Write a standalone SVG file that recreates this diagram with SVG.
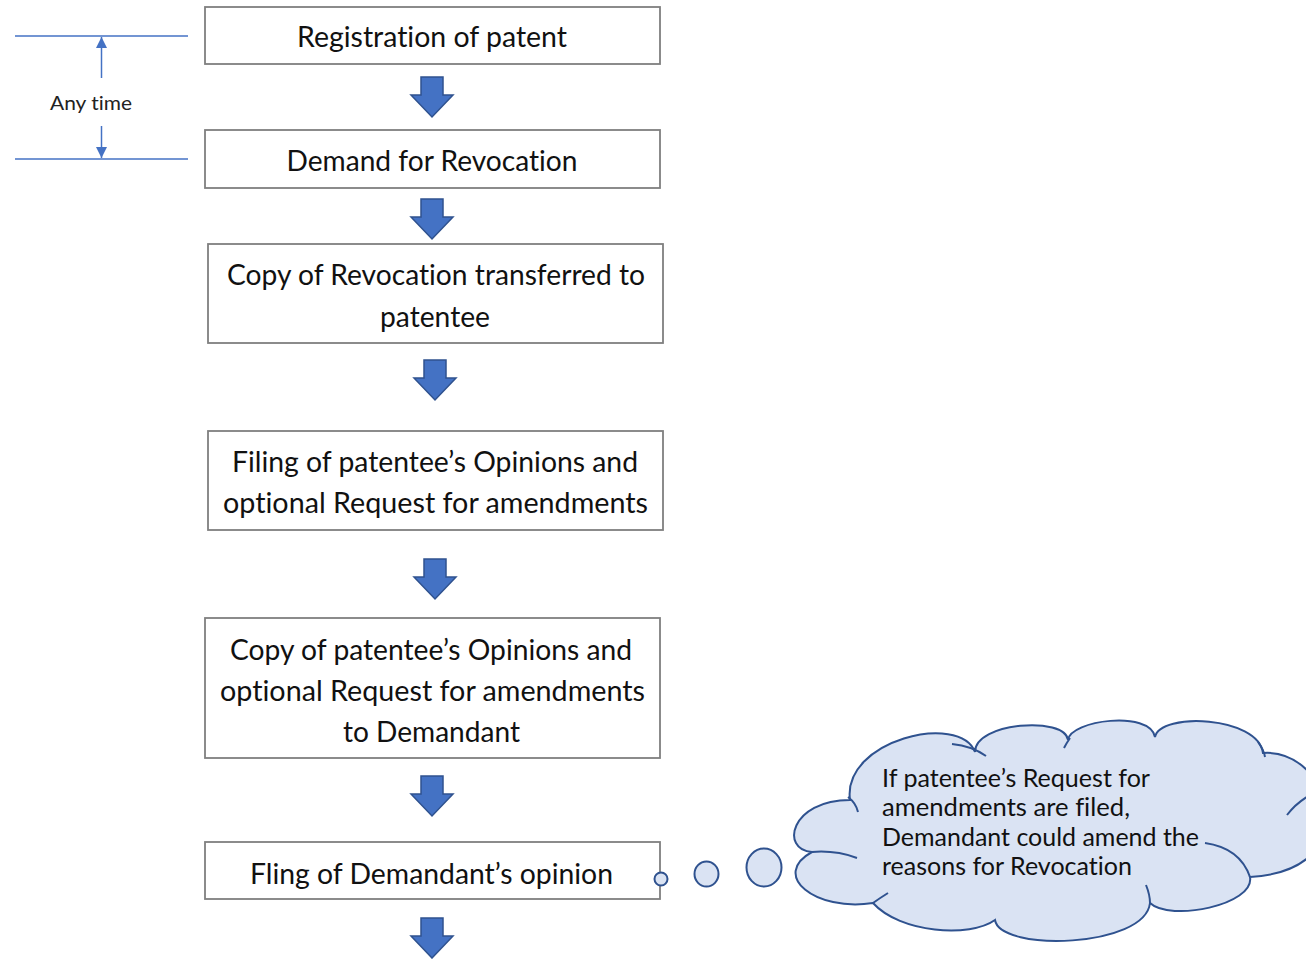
<svg xmlns="http://www.w3.org/2000/svg" width="1306" height="959" viewBox="0 0 1306 959">
  <style>
    text { font-variant-ligatures: none; font-feature-settings: "liga" 0, "clig" 0; }
    .box { fill: #ffffff; stroke: #7f7f7f; stroke-width: 1.8; }
    .lbl { font-family: Lato, "Open Sans", "Liberation Sans", sans-serif; font-size: 28px; fill: #111111; text-anchor: middle; }
    .note { font-family: Lato, "Open Sans", "Liberation Sans", sans-serif; font-size: 25px; fill: #111111; }
    .dim { stroke: #4472c4; stroke-width: 1.5; fill: none; }
    .dimtxt { font-family: Lato, "Open Sans", "Liberation Sans", sans-serif; font-size: 19px; fill: #222222; text-anchor: middle; }
    .flow { fill: #4472c4; stroke: #2f528f; stroke-width: 1.5; stroke-linejoin: miter; }
    .cloud { fill: #dae3f3; stroke: #2f528f; stroke-width: 2; }
    .stub { fill: none; stroke: #2f528f; stroke-width: 2; }
  </style>
  <defs>
    <!-- block arrow pointing down, origin at top centre of the shaft -->
    <path id="down" d="M-11,0 H11 V18 H21 L0,40 L-21,18 H-11 Z"/>
    <marker id="tip" viewBox="0 0 10 10" refX="10" refY="5" markerWidth="11" markerHeight="11" markerUnits="userSpaceOnUse" orient="auto">
      <path d="M0,0 L10,5 L0,10 Z" fill="#4472c4"/>
    </marker>
  </defs>

  <!-- time span between registration and demand -->
  <g id="any-time">
    <line class="dim" x1="15" y1="36" x2="188" y2="36"/>
    <line class="dim" x1="15" y1="159" x2="188" y2="159"/>
    <line class="dim" x1="101.5" y1="78" x2="101.5" y2="37" marker-end="url(#tip)"/>
    <line class="dim" x1="101.5" y1="126" x2="101.5" y2="158" marker-end="url(#tip)"/>
    <text class="dimtxt" x="91" y="110" textLength="82" lengthAdjust="spacingAndGlyphs">Any time</text>
  </g>

  <g id="n1">
    <rect class="box" x="205" y="7" width="455" height="57"/>
    <text class="lbl" x="432" y="47" textLength="270" lengthAdjust="spacingAndGlyphs">Registration of patent</text>
  </g>
  <g id="n2">
    <rect class="box" x="205" y="130" width="455" height="58"/>
    <text class="lbl" x="432" y="171" textLength="291" lengthAdjust="spacingAndGlyphs">Demand for Revocation</text>
  </g>
  <g id="n3">
    <rect class="box" x="208" y="244" width="455" height="99"/>
    <text class="lbl" x="436" y="285" textLength="418" lengthAdjust="spacingAndGlyphs">Copy of Revocation transferred to</text>
    <text class="lbl" x="435" y="327" textLength="110" lengthAdjust="spacingAndGlyphs">patentee</text>
  </g>
  <g id="n4">
    <rect class="box" x="208" y="431" width="455" height="99"/>
    <text class="lbl" x="435" y="472" textLength="406" lengthAdjust="spacingAndGlyphs">Filing of patentee’s Opinions and</text>
    <text class="lbl" x="435.5" y="513" textLength="425" lengthAdjust="spacingAndGlyphs">optional Request for amendments</text>
  </g>
  <g id="n5">
    <rect class="box" x="205" y="618" width="455" height="140"/>
    <text class="lbl" x="431" y="660" textLength="402" lengthAdjust="spacingAndGlyphs">Copy of patentee’s Opinions and</text>
    <text class="lbl" x="432.5" y="701" textLength="425" lengthAdjust="spacingAndGlyphs">optional Request for amendments</text>
    <text class="lbl" x="431.5" y="742" textLength="177" lengthAdjust="spacingAndGlyphs">to Demandant</text>
  </g>
  <g id="n6">
    <rect class="box" x="205" y="842" width="455" height="57"/>
    <text class="lbl" x="431.5" y="884" textLength="363" lengthAdjust="spacingAndGlyphs">Fling of Demandant’s opinion</text>
  </g>

  <!-- thought bubble with trailing circles -->
  <g id="note">
    <circle class="cloud" cx="661" cy="879" r="6.5"/>
    <ellipse class="cloud" cx="706.5" cy="874" rx="12" ry="12.5"/>
    <ellipse class="cloud" cx="764" cy="867.5" rx="17.5" ry="19"/>
    <path class="cloud" d="M850,800
      C842,740 960,712 975,752
      C975,722 1065,716 1068,740
      C1070,720 1150,710 1155,737
      C1160,712 1258,716 1263,753
      C1330,748 1370,870 1250,877
      C1255,905 1170,922 1150,903
      C1145,948 1000,952 995,920
      C970,938 900,933 873,903
      C815,912 770,875 812,852
      C780,850 790,800 850,800 Z"/>
    <path class="stub" d="M848,797 Q856,803 858,812"/>
    <path class="stub" d="M812,852 Q835,850 857,858"/>
    <path class="stub" d="M952,744 Q972,746 986,756"/>
    <path class="stub" d="M1070,738 Q1066,744 1064,748"/>
    <path class="stub" d="M1258,742 Q1264,750 1265,757"/>
    <path class="stub" d="M1287,815 Q1296,803 1310,795"/>
    <path class="stub" d="M1205,843 Q1240,848 1250,877"/>
    <path class="stub" d="M1146,885 Q1150,895 1150,903"/>
    <path class="stub" d="M873,903 Q880,898 888,893"/>
    <text class="note" x="882" y="787" textLength="268" lengthAdjust="spacingAndGlyphs">If patentee’s Request for</text>
    <text class="note" x="882" y="816" textLength="248" lengthAdjust="spacingAndGlyphs">amendments are filed,</text>
    <text class="note" x="882" y="846" textLength="317" lengthAdjust="spacingAndGlyphs">Demandant could amend the</text>
    <text class="note" x="882" y="875" textLength="250" lengthAdjust="spacingAndGlyphs">reasons for Revocation</text>
  </g>

  <!-- flow arrows between steps -->
  <g id="connectors">
    <use href="#down" class="flow" x="432" y="77"/>
    <use href="#down" class="flow" x="432" y="199"/>
    <use href="#down" class="flow" x="435" y="360"/>
    <use href="#down" class="flow" x="435" y="559"/>
    <use href="#down" class="flow" x="432" y="776"/>
    <use href="#down" class="flow" x="432" y="918"/>
  </g>
</svg>
